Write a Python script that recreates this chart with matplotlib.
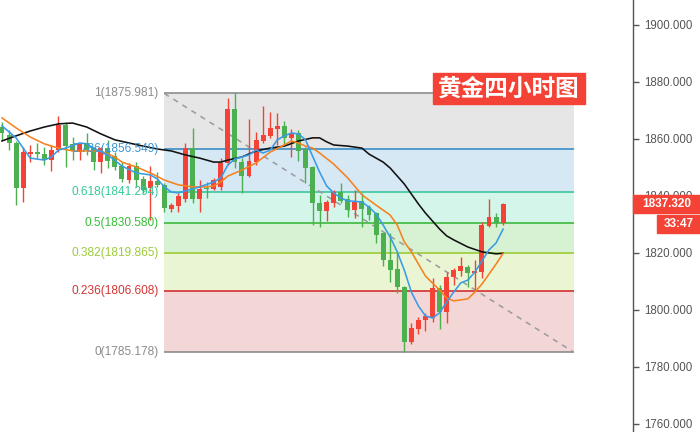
import numpy as np
import matplotlib
matplotlib.use("Agg")
import matplotlib.pyplot as plt
from matplotlib.patches import Rectangle

plt.rcParams["font.family"] = ["Liberation Sans", "DejaVu Sans"]

TITLE = "黄金四小时图"
LAST_PRICE = 1837.320
COUNTDOWN = "33:47"

opens = [1864.2, 1861.4, 1858.6, 1842.8, 1854.7, 1855.4, 1854.7, 1852.6, 1856.1, 1864.9,
         1858.2, 1855.4, 1858.6, 1856.8, 1851.9, 1856.8, 1854.0, 1850.5, 1845.6, 1850.5,
         1846.0, 1842.8, 1845.3, 1843.9, 1835.4, 1836.5, 1839.0, 1856.8, 1839.0, 1842.8,
         1842.5, 1843.2, 1851.6, 1870.5, 1851.9, 1847.0, 1851.9, 1859.3, 1861.1, 1863.5,
         1864.6, 1860.4, 1862.1, 1856.5, 1850.2, 1837.5, 1834.7, 1837.5, 1841.4, 1839.0,
         1835.1, 1838.2, 1836.1, 1834.0, 1827.0, 1817.5, 1814.4, 1808.1, 1788.8, 1793.3,
         1796.5, 1797.2, 1807.7, 1799.3, 1811.6, 1813.7, 1815.1, 1813.0, 1813.3, 1829.5,
         1832.6, 1830.5]
highs = [1866.0, 1863.2, 1859.3, 1857.2, 1857.9, 1858.6, 1857.2, 1857.9, 1868.1, 1866.0,
         1860.7, 1858.6, 1862.1, 1857.2, 1857.2, 1859.6, 1855.4, 1851.9, 1851.6, 1851.9,
         1847.0, 1850.5, 1848.4, 1844.6, 1837.5, 1841.1, 1858.6, 1863.9, 1845.6, 1844.9,
         1846.3, 1853.3, 1874.4, 1875.981, 1853.3, 1867.0, 1862.5, 1871.6, 1869.5, 1869.1,
         1866.3, 1863.5, 1863.2, 1857.2, 1850.5, 1840.4, 1838.6, 1842.1, 1844.6, 1840.4,
         1842.1, 1841.1, 1836.8, 1834.4, 1827.0, 1827.0, 1820.0, 1808.4, 1795.4, 1797.5,
         1799.0, 1811.2, 1808.8, 1813.3, 1814.7, 1818.6, 1815.8, 1817.5, 1830.9, 1838.9,
         1834.0, 1837.4]
lows = [1859.6, 1856.1, 1836.8, 1837.9, 1851.9, 1853.3, 1850.9, 1848.8, 1855.4, 1850.2,
        1852.6, 1852.6, 1854.4, 1849.1, 1848.1, 1849.8, 1849.1, 1844.9, 1844.6, 1843.2,
        1841.1, 1831.6, 1843.2, 1834.4, 1834.4, 1834.4, 1837.9, 1837.5, 1834.4, 1839.3,
        1842.1, 1842.1, 1850.9, 1849.8, 1841.1, 1846.7, 1850.9, 1858.6, 1860.4, 1857.9,
        1857.9, 1853.7, 1852.3, 1844.6, 1829.8, 1829.1, 1831.2, 1836.1, 1837.5, 1832.6,
        1832.3, 1829.1, 1831.6, 1823.5, 1815.4, 1809.8, 1806.0, 1785.178, 1788.1, 1791.6,
        1792.6, 1795.8, 1793.3, 1795.4, 1808.8, 1811.9, 1808.1, 1807.0, 1811.2, 1829.1,
        1829.1, 1829.8]
closes = [1862.1, 1858.6, 1842.8, 1855.4, 1855.4, 1854.7, 1852.6, 1856.1, 1864.9, 1857.5,
          1855.8, 1858.2, 1856.1, 1851.9, 1856.8, 1852.3, 1850.2, 1846.0, 1850.5, 1845.6,
          1842.1, 1845.3, 1843.9, 1835.8, 1836.8, 1840.0, 1856.8, 1839.0, 1842.5, 1842.5,
          1845.6, 1851.6, 1870.5, 1851.9, 1847.0, 1852.3, 1859.6, 1861.4, 1863.9, 1864.6,
          1860.4, 1862.1, 1855.8, 1849.8, 1837.5, 1834.7, 1837.9, 1841.4, 1838.2, 1835.1,
          1837.9, 1835.4, 1833.3, 1826.3, 1817.5, 1814.0, 1808.1, 1788.8, 1793.7, 1796.5,
          1797.9, 1807.7, 1799.3, 1811.6, 1814.0, 1815.4, 1813.0, 1813.7, 1829.8, 1832.6,
          1830.5, 1837.32]

# moving averages (candle index, price)
ma_fast_idx = [0, 2, 3, 4, 6, 7, 8, 9, 11, 12, 13, 15, 17, 19, 21, 22, 23, 24, 25, 26,
               28, 30, 31, 32, 33, 34, 35, 36, 37, 38, 39, 40, 41, 42, 43, 44, 45, 46, 47, 48,
               49, 51, 52, 53, 54, 55, 56, 57, 58, 59, 60, 61, 62, 63, 64, 65, 66, 67, 68, 69,
               70, 71]
ma_fast = [1864.6, 1860.4, 1856.8, 1853.3, 1852.6, 1853.7, 1856.1, 1856.8, 1858.6, 1858.3,
           1856.8, 1854.4, 1850.5, 1848.1, 1847.4, 1846.0, 1843.2, 1841.4, 1841.1, 1841.8,
           1843.2, 1844.9, 1846.3, 1850.9, 1853.0, 1853.7, 1854.4, 1856.1, 1855.1, 1856.1,
           1859.7, 1861.1, 1862.1, 1861.8, 1859.7, 1854.0, 1848.4, 1843.5, 1841.1, 1839.3,
           1838.3, 1837.9, 1836.1, 1833.7, 1829.8, 1825.6, 1820.4, 1814.0, 1806.3, 1801.4,
           1797.9, 1797.2, 1799.0, 1802.8, 1806.3, 1809.5, 1810.5, 1813.3, 1817.2, 1821.1,
           1823.5, 1828.4]

ma_mid_idx = [0, 2, 4, 6, 8, 10, 12, 14, 16, 17, 19, 21, 23, 25, 27, 29, 30, 31, 32, 34,
              36, 38, 40, 41, 42, 43, 44, 45, 47, 49, 51, 53, 55, 56, 57, 58, 60, 62, 63, 64,
              66, 67, 68, 69, 70, 71]
ma_mid = [1867.4, 1863.9, 1860.7, 1858.3, 1856.8, 1855.8, 1855.8, 1855.8, 1853.7, 1851.9,
          1850.2, 1848.1, 1845.6, 1843.9, 1843.2, 1843.2, 1843.5, 1844.9, 1847.0, 1849.1,
          1851.6, 1855.4, 1857.9, 1859.3, 1858.6, 1857.5, 1856.8, 1855.1, 1851.2, 1846.3,
          1840.4, 1836.8, 1833.3, 1829.8, 1823.9, 1820.4, 1811.9, 1807.0, 1804.2, 1803.2,
          1803.9, 1806.3, 1809.1, 1812.6, 1816.1, 1819.9]

ma_slow_idx = [0, 2, 4, 6, 8, 10, 12, 14, 16, 18, 20, 22, 24, 26, 28, 30, 31, 32, 34, 36,
               38, 40, 42, 44, 45, 46, 47, 49, 51, 52, 54, 55, 56, 57, 58, 59, 60, 61, 62, 63,
               64, 66, 68, 70, 71]
ma_slow = [1859.3, 1861.1, 1862.8, 1864.2, 1865.3, 1865.6, 1864.2, 1861.8, 1859.7, 1858.6,
           1857.5, 1856.5, 1855.8, 1854.4, 1853.3, 1851.9, 1851.9, 1852.6, 1853.7, 1855.8,
           1856.8, 1857.5, 1859.3, 1860.4, 1860.4, 1859.0, 1857.9, 1857.5, 1856.8, 1854.7,
           1851.9, 1849.8, 1847.0, 1844.2, 1840.7, 1837.2, 1834.0, 1831.2, 1828.4, 1826.0,
           1824.6, 1822.1, 1820.4, 1819.7, 1819.9]

# fibonacci retracement
fib_high = 1875.981
fib_low = 1785.178
fib_start, fib_end = 23, 81
fib_ratios = [1, 0.786, 0.618, 0.5, 0.382, 0.236, 0]
fib_line_colors = ["#8c8c8c", "#3b8fc7", "#3cc7a0", "#3cb93c", "#9bcb35", "#d42f2f", "#8c8c8c"]
fib_text_colors = ["#8c8c8c", "#3a97d3", "#35c99a", "#38bd38", "#9ccc3c", "#d43535", "#8c8c8c"]
fib_fills = ["#e6e6e6", "#d5e8f4", "#d4f5ea", "#d6f2d3", "#eaf5d3", "#f3d6d6"]

RED = "#f44336"
GREEN = "#4caf50"

o = np.array(opens); h = np.array(highs); l = np.array(lows); c = np.array(closes)
x = np.arange(len(o))
cols = np.where(c >= o, RED, GREEN)

fig = plt.figure(figsize=(7, 4.32), dpi=100)
ax = fig.add_axes([0, 0, 633 / 700, 1])

levels = [fib_low + r * (fib_high - fib_low) for r in fib_ratios]
for i in range(len(levels) - 1):
    ax.fill_between([fib_start, fib_end], levels[i + 1], levels[i],
                    color=fib_fills[i], lw=0, zorder=1)
for r, lv, lc, tc in zip(fib_ratios, levels, fib_line_colors, fib_text_colors):
    ax.hlines(lv, fib_start, fib_end, color=lc, lw=1.2, zorder=2)
    ax.annotate(f"{r:g}({lv:.3f})", xy=(fib_start, lv), xytext=(-4, 0),
                textcoords="offset points", ha="right", va="center",
                color=tc, fontsize=8.6, zorder=7)
ax.plot([fib_start, fib_end], [fib_high, fib_low], color="#9a9a9a",
        lw=1.1, ls=(0, (3.5, 3.5)), zorder=2)

# candles
ax.vlines(x, l, h, colors=cols, lw=1, zorder=3)
body = np.maximum(np.abs(c - o), 0.4)
ax.bar(x, body, bottom=np.minimum(o, c), width=0.7, color=cols, lw=0, zorder=3)

ax.plot(ma_slow_idx, ma_slow, color="#111111", lw=1.15, zorder=4)
ax.plot(ma_mid_idx, ma_mid, color="#f58220", lw=1.15, zorder=5)
ax.plot(ma_fast_idx, ma_fast, color="#3a9be6", lw=1.15, zorder=6)

ax.set_xlim(-0.28, 89.4)
ax.set_ylim(1757.19, 1908.77)
ax.set_xticks([])
ax.yaxis.tick_right()
ax.set_yticks(np.arange(1760, 1901, 20))
ax.set_yticklabels([f"{v:.3f}" for v in np.arange(1760, 1901, 20)])
ax.tick_params(axis="y", direction="out", length=4, colors="#555555",
               labelsize=8.3, pad=4, width=1)
for side in ["left", "top", "bottom"]:
    ax.spines[side].set_visible(False)
ax.spines["right"].set_color("#555555")
ax.spines["right"].set_linewidth(1)

# last price tag
trans = ax.get_yaxis_transform()
px = (ax.get_ylim()[1] - ax.get_ylim()[0]) / 432
ax.add_patch(Rectangle((1.0, LAST_PRICE - 9 * px), 67 / 633, 18 * px, transform=trans,
                       color=RED, clip_on=False, zorder=8))
ax.text(1.0 + 33.5 / 633, LAST_PRICE, f"{LAST_PRICE:.3f}", transform=trans, ha="center",
        va="center", color="white", fontsize=8.5, fontweight="bold", zorder=9, clip_on=False)
ax.add_patch(Rectangle((1.0 + 24 / 633, LAST_PRICE - 29 * px), 43 / 633, 18 * px,
                       transform=trans, color=RED, clip_on=False, zorder=8))
ax.text(1.0 + 45.5 / 633, LAST_PRICE - 20 * px, COUNTDOWN, transform=trans, ha="center",
        va="center", color="white", fontsize=8.5, fontweight="bold", zorder=9, clip_on=False)

# title badge
fig.patches.append(Rectangle((433 / 700, 1 - 104 / 432), 152 / 700, 31 / 432,
                             transform=fig.transFigure, color=RED, zorder=10))
fig.text(509 / 700, 1 - 89 / 432, TITLE, ha="center", va="center", color="white",
         fontsize=17, fontweight="bold", family=["Noto Sans CJK SC", "DejaVu Sans"],
         zorder=11)

fig.savefig("out.png", dpi=100, facecolor="white")
